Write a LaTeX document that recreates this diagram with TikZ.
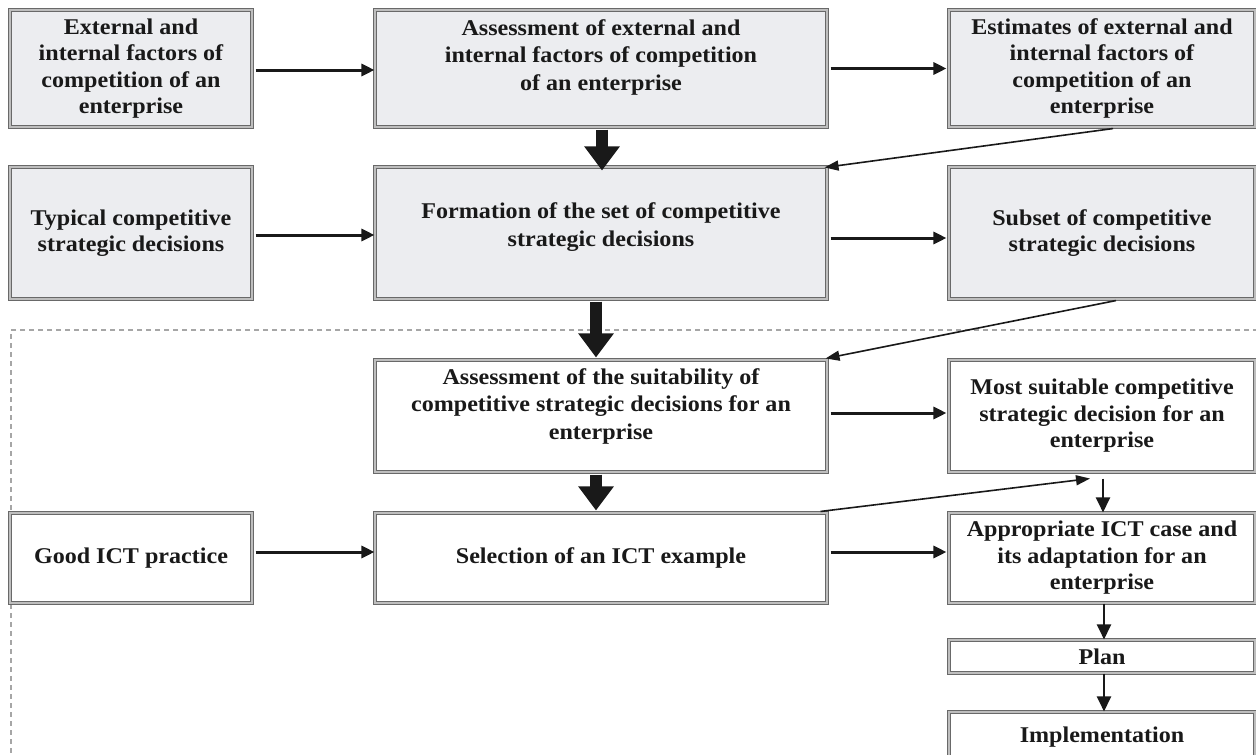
\documentclass[tikz,border=0pt]{standalone}
\usepackage{fontspec}
\setmainfont{Liberation Serif}[FakeStretch=1.07]
\usetikzlibrary{arrows.meta,calc}
\definecolor{boxfill}{RGB}{236,237,240}
\definecolor{edge}{RGB}{105,105,105}
\definecolor{gapc}{RGB}{190,190,190}
\definecolor{ink}{RGB}{25,25,25}
\begin{document}
\begin{tikzpicture}[x=1pt,y=-1pt,
  box/.style={rectangle, draw=edge, double=gapc, double distance=1.2pt, line width=1.1pt,
    inner sep=2pt, align=center, text=ink, font=\bfseries\fontsize{22.5}{26.5}\selectfont},
  gbox/.style={box, fill=boxfill},
  wbox/.style={box, fill=white},
  txt/.style={inner sep=0pt, align=center, text=ink, font=\bfseries\fontsize{22.5}{27.5}\selectfont},
  harrow/.style={-{Triangle[length=13pt,width=12pt]}, line width=3pt, draw=ink},
  bigarrow/.style={-{Triangle[length=24pt,width=34pt]}, line width=12pt, draw=ink},
  darrow/.style={-{Triangle[length=14pt,width=10pt]}, line width=1.6pt, draw=ink},
  varrow/.style={-{Triangle[length=15pt,width=14pt]}, line width=2.2pt, draw=ink},
  dashline/.style={draw=gray!70, line width=1.3pt, dash pattern=on 5pt off 4pt}
]
\useasboundingbox (0,0) rectangle (1256,755);
\clip (0,0) rectangle (1256,755);
\fill[white] (0,0) rectangle (1256,755);

% dashed frame
\coordinate (dtr) at (1258,330);
\coordinate (dtl) at (11,330);
\coordinate (dbl) at (11,760);
\draw[dashline] (dtr) -- (dtl) -- (dbl);

% row 1
\node[gbox, minimum width=242pt, minimum height=117pt] (a1) at (131,68.5)
  {External and\\internal factors of\\competition of an\\enterprise};
\node[gbox, minimum width=452pt, minimum height=117pt] (a2) at (601,68.5) {};
\node[txt] (a2t) at (601,57) {Assessment of external and\\internal factors of competition\\of an enterprise};
\node[gbox, minimum width=306pt, minimum height=117pt] (a3) at (1102,68.5)
  {Estimates of external and\\internal factors of\\competition of an\\enterprise};

% row 2
\node[gbox, minimum width=242pt, minimum height=132pt] (b1) at (131,233)
  {Typical competitive\\strategic decisions};
\node[gbox, minimum width=452pt, minimum height=132pt] (b2) at (601,233) {};
\node[txt] (b2t) at (601,227) {Formation of the set of competitive\\strategic decisions};
\node[gbox, minimum width=306pt, minimum height=132pt] (b3) at (1102,233)
  {Subset of competitive\\strategic decisions};

% row 3
\node[wbox, minimum width=452pt, minimum height=112pt] (c2) at (601,416) {};
\node[txt] (c2t) at (601,406) {Assessment of the suitability of\\competitive strategic decisions for an\\enterprise};
\node[wbox, minimum width=306pt, minimum height=112pt] (c3) at (1102,416)
  {Most suitable competitive\\strategic decision for an\\enterprise};

% row 4
\node[wbox, minimum width=242pt, minimum height=90pt] (d1) at (131,558) {Good ICT practice};
\node[wbox, minimum width=452pt, minimum height=90pt] (d2) at (601,558) {Selection of an ICT example};
\node[wbox, minimum width=306pt, minimum height=90pt] (d3) at (1102,558)
  {Appropriate ICT case and\\its adaptation for an\\enterprise};

% rows 5-6
\node[wbox, minimum width=306pt, minimum height=33pt, inner sep=0pt] (e3) at (1102,656.5) {Plan};
\node[wbox, minimum width=306pt, minimum height=50pt] (f3) at (1102,737) {Implementation};

% horizontal arrows
\draw[harrow] ([xshift=3pt,yshift=-1.5pt]a1.east) -- ([yshift=-1.5pt]a2.west);
\draw[harrow] ([xshift=3pt]a2.east) -- ([xshift=-2pt]a3.west);
\draw[harrow] ([xshift=3pt,yshift=-2pt]b1.east) -- ([yshift=-2pt]b2.west);
\draw[harrow] ([xshift=3pt,yshift=-5pt]b2.east) -- ([xshift=-2pt,yshift=-5pt]b3.west);
\draw[harrow] ([xshift=3pt,yshift=3pt]c2.east) -- ([xshift=-2pt,yshift=3pt]c3.west);
\draw[harrow] ([xshift=3pt,yshift=6pt]d1.east) -- ([yshift=6pt]d2.west);
\draw[harrow] ([xshift=3pt,yshift=6pt]d2.east) -- ([xshift=-2pt,yshift=6pt]d3.west);

% thick downward arrows
\draw[bigarrow] ([xshift=1pt,yshift=-2pt]a2.south) -- ([xshift=1pt,yshift=-4pt]b2.north);
\draw[bigarrow] ([xshift=-5pt,yshift=-2pt]b2.south) -- ([xshift=-5pt,yshift=2pt]c2.north);
\draw[bigarrow] ([xshift=-5pt,yshift=-2pt]c2.south) -- ([xshift=-5pt,yshift=2pt]d2.north);

% diagonal arrows
\draw[darrow] ([xshift=11pt,yshift=-1pt]a3.south) -- ([xshift=-3pt,yshift=-1pt]b2.north east);
\draw[darrow] ([xshift=14pt,yshift=-1pt]b3.south) -- ([xshift=-2pt,yshift=1pt]c2.north east);
\draw[darrow] ([xshift=-7pt,yshift=1pt]d2.north east) -- ([xshift=-12pt,yshift=-6pt]c3.south);

% small vertical arrows
\draw[varrow] ([xshift=1pt,yshift=-6pt]c3.south) -- ([xshift=1pt]d3.north);
\draw[varrow] ([xshift=2pt]d3.south) -- ([xshift=2pt]e3.north);
\draw[varrow] ([xshift=2pt]e3.south) -- ([xshift=2pt]f3.north);
\end{tikzpicture}
\end{document}
